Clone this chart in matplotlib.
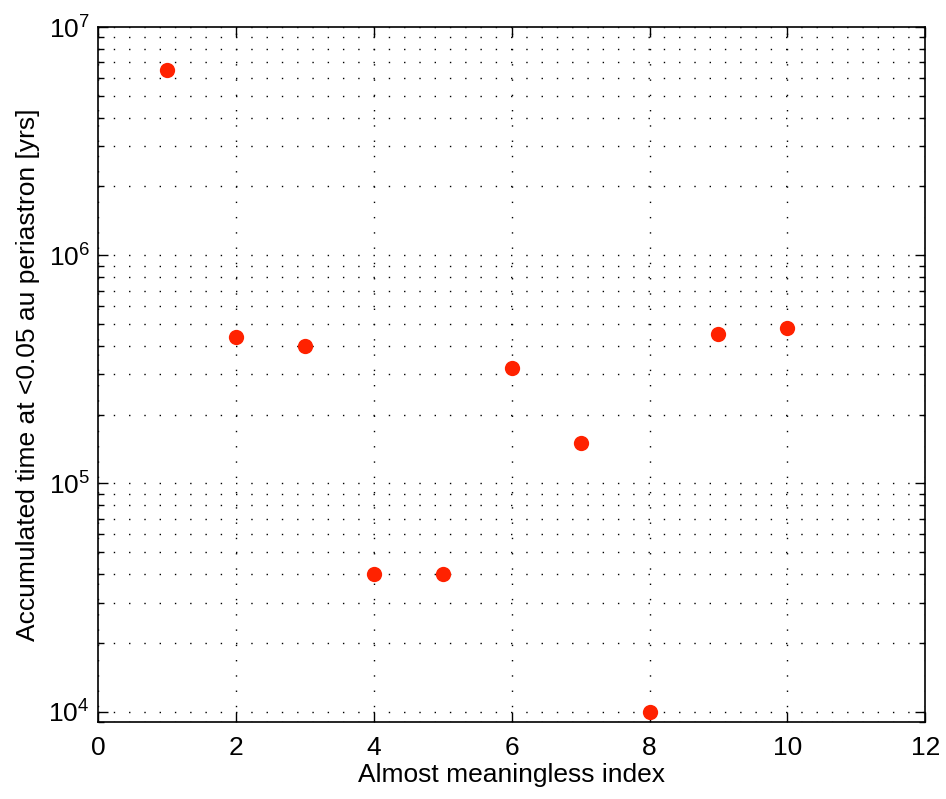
import numpy as np
import matplotlib.pyplot as plt
from matplotlib.ticker import LogLocator, NullFormatter

plt.rcParams["font.family"] = ["Liberation Sans", "DejaVu Sans"]

index = [1, 2, 3, 4, 5, 6, 7, 8, 9, 10]
acc_time = [6.5e6, 4.4e5, 4.0e5, 4.0e4, 4.0e4, 3.2e5, 1.5e5, 1.0e4, 4.5e5, 4.8e5]

fig = plt.figure(figsize=(9.46, 7.99), dpi=100)
ax = fig.add_axes([0.1036, 0.0964, 0.8745, 0.8698])

ax.semilogy(index, acc_time, "o", color="#ff2200", markersize=11, markeredgewidth=0)

ax.set_xlim(0, 12)
ax.set_ylim(9000, 1e7)
ax.set_xticks([0, 2, 4, 6, 8, 10, 12])
ax.yaxis.set_major_locator(LogLocator(base=10, numticks=10))
ax.yaxis.set_minor_locator(LogLocator(base=10, subs=np.arange(2, 10), numticks=20))
ax.yaxis.set_minor_formatter(NullFormatter())

dots = (0, (1, 10))
ax.grid(True, which="major", color="black", linestyle=dots, linewidth=1.0)
ax.grid(True, which="minor", axis="y", color="black", linestyle=dots, linewidth=1.0)

ax.tick_params(which="both", direction="in", top=True, right=True, labelsize=19, width=1)
ax.tick_params(which="major", length=7)
ax.tick_params(axis="x", which="major", pad=10)
ax.tick_params(axis="y", which="major", pad=6)
ax.tick_params(which="minor", length=4)
for s in ax.spines.values():
    s.set_linewidth(1.2)

ax.set_xlabel("Almost meaningless index", fontsize=19, labelpad=2)
ax.set_ylabel("Accumulated time at <0.05 au periastron [yrs]", fontsize=19, labelpad=6)

fig.savefig("out.png", dpi=100)
